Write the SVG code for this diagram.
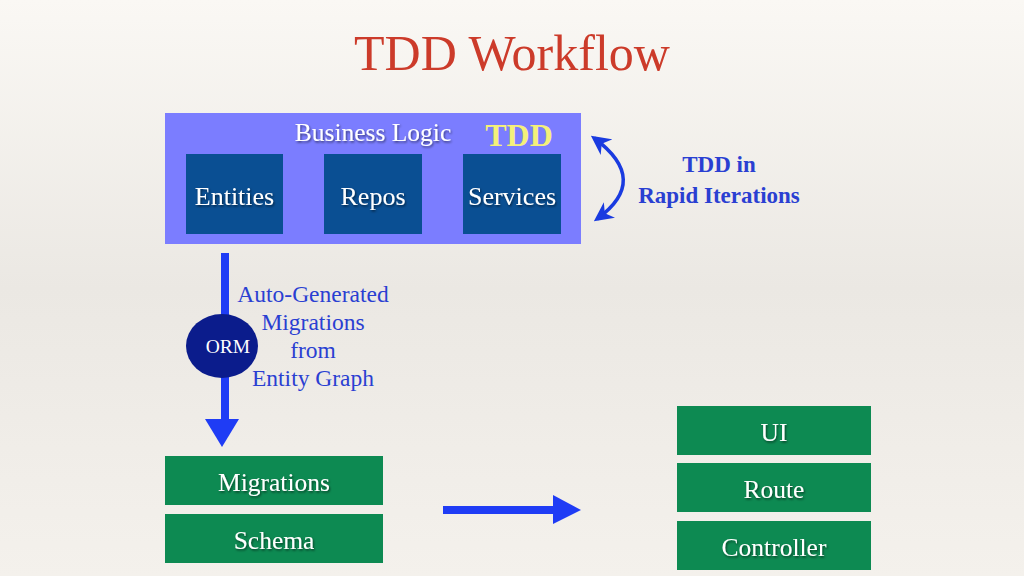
<svg xmlns="http://www.w3.org/2000/svg" width="1024" height="576" viewBox="0 0 1024 576">
<defs>
<linearGradient id="bg" x1="0" y1="0" x2="0" y2="1">
<stop offset="0" stop-color="#faf8f4"/>
<stop offset="0.5" stop-color="#ebe8e3"/>
<stop offset="1" stop-color="#f4f1ec"/>
</linearGradient>
<filter id="ts" x="-10%" y="-20%" width="130%" height="150%">
<feDropShadow dx="1" dy="1.5" stdDeviation="0.8" flood-color="#000" flood-opacity="0.55"/>
</filter>
<marker id="ah" viewBox="0 0 10 10" refX="8" refY="5" markerWidth="5.5" markerHeight="5.5" orient="auto-start-reverse" markerUnits="strokeWidth">
<path d="M0,0 L10,5 L0,10 L3,5 Z" fill="#1a3be0"/>
</marker>
</defs>
<style>
.box-dark{fill:#0a4f93}
.box-green{fill:#0d8a52}
.lbl{font-family:"Liberation Serif","DejaVu Serif",serif;fill:#ffffff;text-anchor:middle;filter:url(#ts)}
.blue-txt{font-family:"Liberation Serif","DejaVu Serif",serif;fill:#2a3fd2;text-anchor:middle}
</style>
<rect x="0" y="0" width="1024" height="576" fill="url(#bg)"/>
<text x="512" y="70" font-family="Liberation Serif, DejaVu Serif, serif" font-size="50" fill="#cc3b2a" text-anchor="middle">TDD Workflow</text>

<g id="business-logic">
<rect x="165" y="113" width="416" height="131" fill="#7b7dff"/>
<text class="lbl" x="373" y="141" font-size="25.5">Business Logic</text>
<text x="519" y="146" font-family="Liberation Serif, DejaVu Serif, serif" font-size="32" font-weight="bold" fill="#f4f07a" text-anchor="middle">TDD</text>
</g>
<g id="entities">
<rect class="box-dark" x="186" y="154" width="97" height="80"/>
<text class="lbl" x="234.5" y="205" font-size="26">Entities</text>
</g>
<g id="repos">
<rect class="box-dark" x="324" y="154" width="98" height="80"/>
<text class="lbl" x="373" y="205" font-size="26">Repos</text>
</g>
<g id="services">
<rect class="box-dark" x="463" y="154" width="98" height="80"/>
<text class="lbl" x="512" y="205" font-size="26">Services</text>
</g>

<g id="tdd-label">
<text class="blue-txt" x="719" y="172" font-size="23" font-weight="bold" fill="#1e3cc8">TDD in</text>
<text class="blue-txt" x="719" y="203" font-size="23" font-weight="bold" fill="#1e3cc8">Rapid Iterations</text>
</g>

<g id="orm-label">
<text class="blue-txt" x="313" y="302" font-size="23.5">Auto-Generated</text>
<text class="blue-txt" x="313" y="330" font-size="23.5">Migrations</text>
<text class="blue-txt" x="313" y="358" font-size="23.5">from</text>
<text class="blue-txt" x="313" y="386" font-size="23.5">Entity Graph</text>
</g>

<g id="connectors">
<path d="M594,138 Q651,180 597,219" fill="none" stroke="#1a3be0" stroke-width="3.5" marker-start="url(#ah)" marker-end="url(#ah)"/>
<rect x="221" y="253" width="8" height="168" fill="#1f3cf5"/>
<polygon points="205,419 239,419 222,447" fill="#1f3cf5"/>
<rect x="443" y="506" width="112" height="8" fill="#1f3cf5"/>
<polygon points="553,495 553,524 581,510" fill="#1f3cf5"/>
</g>

<g id="orm">
<ellipse cx="222" cy="346" rx="36" ry="32" fill="#0b1c8c"/>
<text x="228" y="353" font-family="Liberation Serif, DejaVu Serif, serif" font-size="19.5" fill="#ffffff" text-anchor="middle">ORM</text>
</g>

<g id="migrations">
<rect class="box-green" x="165" y="456" width="218" height="49"/>
<text class="lbl" x="274" y="491" font-size="25.5">Migrations</text>
</g>
<g id="schema">
<rect class="box-green" x="165" y="514" width="218" height="49"/>
<text class="lbl" x="274" y="549" font-size="25.5">Schema</text>
</g>
<g id="ui">
<rect class="box-green" x="677" y="406" width="194" height="49"/>
<text class="lbl" x="774" y="441" font-size="25.5">UI</text>
</g>
<g id="route">
<rect class="box-green" x="677" y="463" width="194" height="49"/>
<text class="lbl" x="774" y="498" font-size="25.5">Route</text>
</g>
<g id="controller">
<rect class="box-green" x="677" y="521" width="194" height="49"/>
<text class="lbl" x="774" y="556" font-size="25.5">Controller</text>
</g>
</svg>
